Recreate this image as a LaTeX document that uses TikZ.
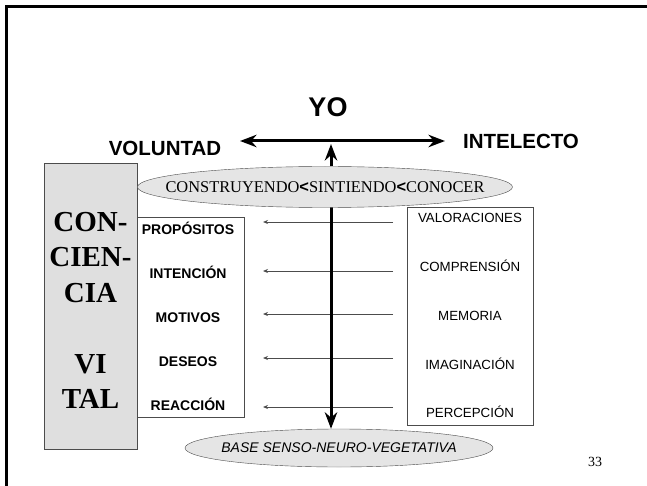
\documentclass[tikz,border=0pt]{standalone}
\usepackage{fontspec}
\setmainfont{Liberation Serif}
\setsansfont{Liberation Sans}
\usetikzlibrary{shapes.geometric,arrows.meta}

\begin{document}
\begin{tikzpicture}[>=Stealth, x=1pt, y=-1pt,
    head/.style={font=\sffamily\bfseries\fontsize{20.5}{24}\selectfont},
    panel/.style={draw=black!70, inner sep=0pt},
    oval/.style={draw=black!70, fill=gray!20, ellipse, inner xsep=-45pt, inner ysep=0pt},
    wlbl/.style={anchor=base, font=\sffamily\bfseries\fontsize{14}{16}\selectfont},
    ilbl/.style={anchor=base, font=\sffamily\fontsize{13.3}{15}\selectfont},
    feed/.style={-{Stealth[length=5pt,width=4pt]}, draw=black!70, line width=0.8pt},
    axis/.style={line width=3pt}]
    \useasboundingbox (0,0) rectangle (647,486);
    % Frame
    \draw[line width=2.5pt] (6.5,490) -- (6.5,6.5) -- (650,6.5);

    % Top: YO between will and intellect
    \node[font=\sffamily\bfseries\fontsize{27}{30}\selectfont] (yo) at (328,107) {YO};
    \node[head] (vol) at (165,148) {VOLUNTAD};
    \node[head] (int) at (521,141) {INTELECTO};
    \coordinate (hl) at (240,141);
    \coordinate (hr) at (445,141);
    \draw[<->, axis] (hl) -- (hr);

    % Conciencia vital
    \node[panel, fill=gray!25, minimum width=93, minimum height=286] (conc) at (90.5,306) {};
    \foreach \w/\y [count=\k] in {CON-/222, CIEN-/257, CIA/293, VI/364, TAL/399} {
        \node[font=\bfseries\fontsize{29}{33}\selectfont] (ct\k) at (90.5,\y) {\w};
    }

    % Voluntad
    \node[panel, minimum width=107, minimum height=200] (will) at (190.5,317) {};
    \foreach \w [count=\k from 0] in {PROPÓSITOS,INTENCIÓN,MOTIVOS,DESEOS,REACCIÓN} {
        \node[wlbl] (w\k) at (188, 235+43.75*\k) {\w};
    }

    % Intelecto
    \node[panel, minimum width=126, minimum height=218] (intel) at (470,316) {};
    \foreach \w [count=\k from 0] in {VALORACIONES,COMPRENSIÓN,MEMORIA,IMAGINACIÓN,PERCEPCIÓN} {
        \node[ilbl] (i\k) at (470, 222.8+48.75*\k) {\w};
    }

    % Arrows between both columns
    \foreach \y [count=\k] in {222,271,314,358,407} {
        \coordinate (fr\k) at (393,\y);
        \coordinate (to\k) at (263,\y);
        \draw[feed] (fr\k) -- (to\k);
    }

    % Ovals and vertical axis
    \node[oval, minimum width=308, minimum height=38, font=\sffamily\itshape\fontsize{14}{16}\selectfont] (base) at (339,448) {BASE SENSO-NEURO-VEGETATIVA};
    \coordinate (yoaxis) at (331,144);
    \draw[->, axis] (yoaxis |- 0,190) -- (yoaxis |- base.north);
    \node[oval, minimum width=375, minimum height=41, font=\fontsize{16.4}{18}\selectfont] (cons) at (325,187)
        {CONSTRUYENDO{\sffamily\bfseries<}SINTIENDO{\sffamily\bfseries<}CONOCER};
    \draw[->, axis] (yoaxis |- cons.north) -- (yoaxis);

    \node[font=\fontsize{14}{16}\selectfont] (pg) at (595,462) {33};
\end{tikzpicture}
\end{document}
